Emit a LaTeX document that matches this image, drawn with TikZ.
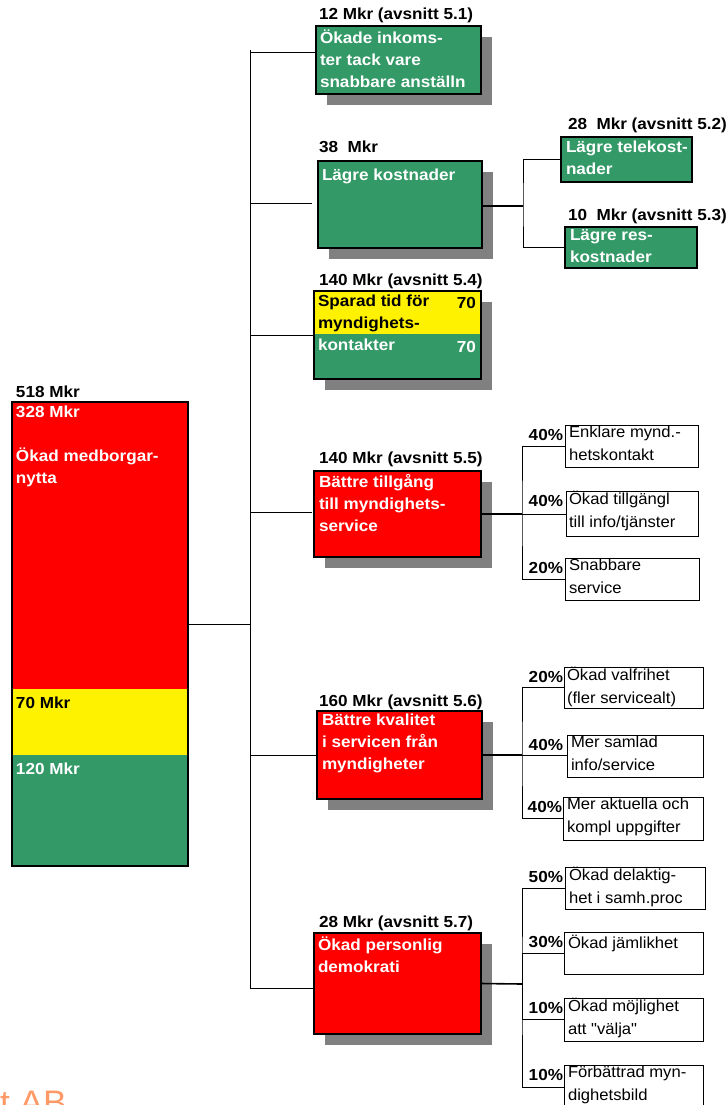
\documentclass[tikz,border=0pt]{standalone}
\usepackage{fontspec}
\setmainfont{Liberation Sans}[FakeStretch=1.04,Ligatures=TeXOff,
    BoldFeatures={FakeStretch=1.07}]
\usetikzlibrary{positioning,shadows}

\definecolor{nyttagreen}{RGB}{51,153,102}
\definecolor{nyttagray}{RGB}{128,128,128}
\definecolor{nyttaorange}{RGB}{255,153,102}

\begin{document}
\begin{tikzpicture}[x=1pt,y=-1pt,
    every node/.style={inner sep=0pt,outer sep=0pt},
    conn/.style={draw=black,line width=0.8pt},
    fatconn/.style={draw=black,line width=1.6pt},
    mainbox/.style={draw=black,line width=1.2pt,anchor=north west,
        drop shadow={opacity=1,fill=nyttagray,shadow xshift=11pt,shadow yshift=-11pt}},
    subbox/.style={draw=black,line width=1.2pt,anchor=north west,fill=nyttagreen},
    leafbox/.style={draw=black,line width=0.8pt,anchor=north west,fill=white},
    boxtext/.style={anchor=north west,align=left,text=white,
        font=\bfseries\fontsize{16}{22}\selectfont,execute at begin node=\strut},
    leaftext/.style={anchor=north west,align=left,
        font=\fontsize{16}{23}\selectfont,execute at begin node=\strut},
    sumtext/.style={anchor=base west,font=\bfseries\fontsize{16}{22}\selectfont},
    pct/.style={anchor=base east,font=\bfseries\fontsize{16}{22}\selectfont}]

\useasboundingbox (0,0) rectangle (726,1105);

% total
\node[draw=black,line width=2pt,anchor=north west,fill=nyttagreen,
      minimum width=176,minimum height=464,
      path picture={
        \fill[red] (path picture bounding box.north west)
            rectangle ([yshift=-287pt]path picture bounding box.north east);
        \fill[yellow] ([yshift=-287pt]path picture bounding box.north west)
            rectangle ([yshift=-353pt]path picture bounding box.north east);}]
      (total) at (12,402) {};
\node[sumtext] (totalsum) at ([shift={(4,-5)}]total.north west) {518 Mkr};
\node[boxtext] (totalred) at ([shift={(4,3.6)}]total.north west)
    {328 Mkr\\[22pt]Ökad medborgar-\\nytta};
\node[boxtext,text=black] (totalyellow) at ([shift={(4,290.6)}]total.north west) {70 Mkr};
\node[boxtext] (totalgreen) at ([shift={(4,356.6)}]total.north west) {120 Mkr};

% main boxes
\node[mainbox,fill=nyttagreen,minimum width=165,minimum height=68] (inkomst) at (316,26) {};
\node[mainbox,fill=nyttagreen,minimum width=164,minimum height=87] (kostnad) at (318,161) {};
\node[mainbox,fill=nyttagreen,minimum width=167,minimum height=88,
      path picture={\fill[yellow] (path picture bounding box.north west)
        rectangle ([yshift=-43pt]path picture bounding box.north east);}] (tid) at (314,291) {};
\node[mainbox,fill=red,minimum width=167,minimum height=86] (tillgang) at (314,471) {};
\node[mainbox,fill=red,minimum width=165,minimum height=88] (kvalitet) at (317,711) {};
\node[mainbox,fill=red,minimum width=167,minimum height=101] (demokrati) at (314,933) {};

\node[sumtext] (inkomstsum) at ([shift={(3,-6)}]inkomst.north west) {12 Mkr (avsnitt 5.1)};
\node[sumtext] (kostnadsum) at ([shift={(1,-8)}]kostnad.north west) {38\ \ Mkr};
\node[sumtext] (tidsum) at ([shift={(5,-6)}]tid.north west) {140 Mkr (avsnitt 5.4)};
\node[sumtext] (tillgangsum) at ([shift={(5,-8)}]tillgang.north west) {140 Mkr (avsnitt 5.5)};
\node[sumtext] (kvalitetsum) at ([shift={(2,-5)}]kvalitet.north west) {160 Mkr (avsnitt 5.6)};
\node[sumtext] (demokratisum) at ([shift={(5,-6)}]demokrati.north west) {28 Mkr (avsnitt 5.7)};

\node[boxtext] (inkomsttext) at ([shift={(4,3.6)}]inkomst.north west)
    {Ökade inkoms-\\ter tack vare\\snabbare anställn};
\node[boxtext] (kostnadtext) at ([shift={(4,3.6)}]kostnad.north west) {Lägre kostnader};
\node[boxtext,text=black] (tidtext) at ([shift={(4,3.6)}]tid.north west)
    {Sparad tid för\\myndighets-\\\textcolor{white}{kontakter}};
\node[sumtext,anchor=base east] (tidyellow) at ([shift={(-5,17)}]tid.north east) {70};
\node[sumtext,anchor=base east,text=white] (tidgreen) at ([shift={(-5,61)}]tid.north east) {70};
\node[boxtext] (tillgangtext) at ([shift={(5,3.6)}]tillgang.north west)
    {Bättre tillgång\\till myndighets-\\service};
\node[boxtext] (kvalitettext) at ([shift={(5,2.6)}]kvalitet.north west)
    {Bättre kvalitet\\i servicen från\\myndigheter};
\node[boxtext] (demokratitext) at ([shift={(4,3.6)}]demokrati.north west)
    {Ökad personlig\\demokrati};

% kostnader
\node[subbox,minimum width=131,minimum height=45] (tele) at (561,137) {};
\node[subbox,minimum width=132,minimum height=41] (resor) at (565,227) {};
\node[sumtext] (telesum) at ([shift={(7,-7)}]tele.north west) {28\ \ Mkr (avsnitt 5.2)};
\node[sumtext] (resorsum) at ([shift={(3,-7)}]resor.north west) {10\ \ Mkr (avsnitt 5.3)};
\node[boxtext] (teletext) at ([shift={(5,3.6)}]tele.north west) {Lägre telekost-\\nader};
\node[boxtext] (resortext) at ([shift={(5,2.6)}]resor.north west) {Lägre res-\\kostnader};

% tillgang
\node[leafbox,minimum width=133,minimum height=42] (enklare) at (565,425) {};
\node[leafbox,minimum width=132,minimum height=45] (tillgangl) at (566,491) {};
\node[leafbox,minimum width=134,minimum height=42] (snabbare) at (565,558) {};
\node[leaftext] (enklaretext) at ([shift={(4,0.5)}]enklare.north west) {Enklare mynd.-\\hetskontakt};
\node[leaftext] (tillgangltext) at ([shift={(3,0.5)}]tillgangl.north west) {Ökad tillgängl\\till info/tjänster};
\node[leaftext] (snabbaretext) at ([shift={(4,0.5)}]snabbare.north west) {Snabbare\\service};
\node[pct] (enklarepct) at ([shift={(-2,15)}]enklare.north west) {40\%};
\node[pct] (tillganglpct) at ([shift={(-3,15)}]tillgangl.north west) {40\%};
\node[pct] (snabbarepct) at ([shift={(-2,15)}]snabbare.north west) {20\%};

% kvalitet
\node[leafbox,minimum width=139,minimum height=41] (valfrihet) at (564,667) {};
\node[leafbox,minimum width=136,minimum height=42] (samlad) at (567,735) {};
\node[leafbox,minimum width=140,minimum height=43] (aktuella) at (563,797) {};
\node[leaftext] (valfrihettext) at ([shift={(3,0.5)}]valfrihet.north west) {Ökad valfrihet\\(fler servicealt)};
\node[leaftext] (samladtext) at ([shift={(4,0.5)}]samlad.north west) {Mer samlad\\info/service};
\node[leaftext] (aktuellatext) at ([shift={(4,0.5)}]aktuella.north west) {Mer aktuella och\\kompl uppgifter};
\node[pct] (valfrihetpct) at ([shift={(-1,15)}]valfrihet.north west) {20\%};
\node[pct] (samladpct) at ([shift={(-4,15)}]samlad.north west) {40\%};
\node[pct] (aktuellapct) at ([shift={(-1,15)}]aktuella.north west) {40\%};

% demokrati
\node[leafbox,minimum width=140,minimum height=42] (delaktighet) at (565,867) {};
\node[leafbox,minimum width=139,minimum height=42] (jamlikhet) at (564,932) {};
\node[leafbox,minimum width=139,minimum height=43] (valja) at (564,998) {};
\node[leafbox,minimum width=139,minimum height=45] (myndbild) at (564,1065) {};
\node[leaftext] (delaktighettext) at ([shift={(4,0.5)}]delaktighet.north west) {Ökad delaktig-\\het i samh.proc};
\node[leaftext] (jamlikhettext) at ([shift={(4,0.5)}]jamlikhet.north west) {Ökad jämlikhet};
\node[leaftext] (valjatext) at ([shift={(4,0.5)}]valja.north west) {Ökad möjlighet\\att "välja"};
\node[leaftext] (myndbildtext) at ([shift={(4,0.5)}]myndbild.north west) {Förbättrad myn-\\dighetsbild};
\node[pct] (delaktighetpct) at ([shift={(-2,15)}]delaktighet.north west) {50\%};
\node[pct] (jamlikhetpct) at ([shift={(-1,15)}]jamlikhet.north west) {30\%};
\node[pct] (valjapct) at ([shift={(-1,15)}]valja.north west) {10\%};
\node[pct] (myndbildpct) at ([shift={(-1,15)}]myndbild.north west) {10\%};

% connectors
\coordinate (trunktop) at (250,50);
\coordinate (trunkinkomst) at (250,52);
\coordinate (trunkkostnad) at (250,203);
\coordinate (trunktid) at (250,335);
\coordinate (trunktillgang) at (250,512);
\coordinate (trunktotal) at (250,624);
\coordinate (trunkkvalitet) at (250,755);
\coordinate (trunkdemokrati) at (250,988);
\draw[conn] (trunktop) -- (trunkdemokrati);
\draw[conn] (total.east |- trunktotal) -- (trunktotal);
\draw[conn] (trunkinkomst) -- (trunkinkomst -| inkomst.west);
\draw[conn,shorten >=6pt] (trunkkostnad) -- (trunkkostnad -| kostnad.west);
\draw[conn] (trunktid) -- (trunktid -| tid.west);
\draw[conn,shorten >=2pt] (trunktillgang) -- (trunktillgang -| tillgang.west);
\draw[conn] (trunkkvalitet) -- (trunkkvalitet -| kvalitet.west);
\draw[conn] (trunkdemokrati) -- (trunkdemokrati -| demokrati.west);

\coordinate (kostnadjoin) at (523,206);
\draw[fatconn] (kostnadjoin -| kostnad.east) -- (kostnadjoin);
\draw[conn] (tele.west) -| (kostnadjoin) |- (resor.west);

\coordinate (tillgangjoin) at (522,514);
\draw[fatconn] (tillgang.east) -- (tillgangjoin);
\draw[conn] (enklare.west) -| (tillgangjoin) |- (snabbare.west);
\draw[conn] (tillgangjoin) -- (tillgangjoin -| tillgangl.west);

\coordinate (kvalitetjoin) at (522,755);
\draw[fatconn] (kvalitet.east) -- (kvalitetjoin);
\draw[conn] (valfrihet.west) -| (kvalitetjoin) |- (aktuella.west);
\draw[conn] (kvalitetjoin) -- (kvalitetjoin -| samlad.west);

\coordinate (demokratijoin) at (522,984);
\draw[fatconn] (demokrati.east) -- (demokratijoin);
\draw[conn] (delaktighet.west) -| (demokratijoin) |- (myndbild.west);
\draw[conn] (jamlikhet.west) -| (demokratijoin);
\draw[conn] (valja.west) -| (demokratijoin);

\node[anchor=north west,text=nyttaorange,font=\fontsize{34}{40}\selectfont] (logo) at (0,1091) {t AB};
\end{tikzpicture}
\end{document}
